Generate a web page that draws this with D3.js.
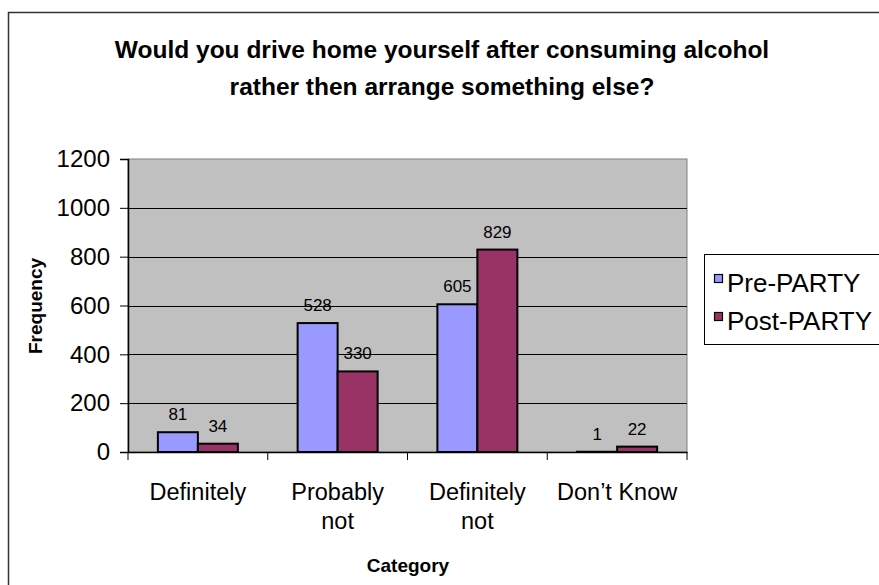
<!DOCTYPE html>
<html>
<head>
<meta charset="utf-8">
<script src="https://cdn.jsdelivr.net/npm/d3@7"></script>
<style>
  html, body { margin: 0; padding: 0; background: #fff; }
  svg { display: block; font-family: Arial, "Liberation Sans", sans-serif; }
</style>
</head>
<body>
<svg id="chart" width="879" height="585"></svg>
<script>
const categories = ["Definitely", "Probably\nnot", "Definitely\nnot", "Don\u2019t Know"];
const seriesNames = ["Pre-PARTY", "Post-PARTY"];
const preParty = [81, 528, 605, 1];
const postParty = [34, 330, 829, 22];
const yTicks = [0, 200, 400, 600, 800, 1000, 1200];
const titleLines = ["Would you drive home yourself after consuming alcohol", "rather then arrange something else?"];
const colors = ["#9999FF", "#993366"];

const svg = d3.select("#chart");
const plot = { left: 128, right: 687, top: 159, bottom: 452 };

// outer chart border (extends beyond the visible window, as in the reference)
svg.append("rect").attr("x", 8.5).attr("y", 12.5).attr("width", 1000).attr("height", 1000)
  .attr("fill", "#fff").attr("stroke", "#333").attr("stroke-width", 1.5);

// title
const title = svg.append("text").attr("text-anchor", "middle")
  .attr("font-weight", "bold").attr("font-size", 24.5).attr("fill", "#000");
titleLines.forEach((t, i) => {
  title.append("tspan").attr("x", 442).attr("y", 58 + i * 37).text(t);
});

const x = d3.scaleBand().domain(categories).range([plot.left, plot.right]).paddingInner(0).paddingOuter(0);
const xs = d3.scaleBand().domain(seriesNames).range([0, x.bandwidth()]).paddingInner(0).paddingOuter(0.747);
const y = d3.scaleLinear().domain([0, 1200]).range([plot.bottom, plot.top]);

// plot background
svg.append("rect").attr("x", plot.left).attr("y", plot.top)
  .attr("width", plot.right - plot.left).attr("height", plot.bottom - plot.top)
  .attr("fill", "#C0C0C0").attr("stroke", "#808080").attr("stroke-width", 1);

// gridlines
svg.append("g").selectAll("line").data(yTicks.filter(d => d > 0 && d < 1200)).join("line")
  .attr("x1", plot.left).attr("x2", plot.right)
  .attr("y1", d => Math.round(y(d)) + 0.5).attr("y2", d => Math.round(y(d)) + 0.5)
  .attr("stroke", "#000").attr("stroke-width", 1);

// bars
const data = categories.map((c, i) => ({ cat: c, vals: [preParty[i], postParty[i]] }));
const groups = svg.append("g").selectAll("g").data(data).join("g")
  .attr("transform", d => `translate(${x(d.cat)},0)`);
groups.selectAll("rect").data(d => d.vals.map((v, j) => ({ v, s: seriesNames[j], j }))).join("rect")
  .attr("x", d => xs(d.s)).attr("width", xs.bandwidth())
  .attr("y", d => y(d.v)).attr("height", d => y(0) - y(d.v))
  .attr("fill", d => colors[d.j]).attr("stroke", "#000").attr("stroke-width", 2);
groups.selectAll("text").data(d => d.vals.map((v, j) => ({ v, s: seriesNames[j], j }))).join("text")
  .attr("x", d => xs(d.s) + xs.bandwidth() / 2)
  .attr("y", d => y(d.v) - 12)
  .attr("text-anchor", "middle").attr("font-size", 17).attr("fill", "#000")
  .text(d => d.v);

// y axis
const yAxis = svg.append("g").attr("transform", `translate(${plot.left},0)`)
  .call(d3.axisLeft(y).tickValues(yTicks).tickFormat(d3.format("d")).tickSize(8).tickPadding(10));
yAxis.select(".domain").attr("stroke", "#000").attr("stroke-width", 1.5);
yAxis.selectAll(".tick line").attr("stroke", "#000");
yAxis.selectAll(".tick text").attr("font-size", 24).attr("font-family", "Arial, 'Liberation Sans', sans-serif").attr("fill", "#000");

// x axis
const xAxis = svg.append("g").attr("transform", `translate(0,${plot.bottom})`)
  .call(d3.axisBottom(x).tickSize(0).tickFormat(""));
xAxis.select(".domain").attr("stroke", "#000").attr("stroke-width", 1.5);
const bounds = categories.map(c => x(c)).concat([x(categories[categories.length - 1]) + x.bandwidth()]);
xAxis.selectAll(".bound").data(bounds).join("line").attr("class", "bound")
  .attr("x1", d => d).attr("x2", d => d).attr("y1", 0).attr("y2", 8)
  .attr("stroke", "#000").attr("stroke-width", 1);
xAxis.selectAll(".cat").data(categories).join("text").attr("class", "cat")
  .attr("text-anchor", "middle").attr("font-size", 23.5).attr("fill", "#000")
  .each(function (c) {
    const t = d3.select(this);
    c.split("\n").forEach((line, i) => {
      t.append("tspan").attr("x", x(c) + x.bandwidth() / 2).attr("y", 48 + i * 29).text(line);
    });
  });

// axis titles
svg.append("text").attr("transform", "translate(42,306) rotate(-90)")
  .attr("text-anchor", "middle").attr("font-weight", "bold").attr("font-size", 19).text("Frequency");
svg.append("text").attr("x", 408).attr("y", 572)
  .attr("text-anchor", "middle").attr("font-weight", "bold").attr("font-size", 19).text("Category");

// legend
const legend = svg.append("g");
legend.append("rect").attr("x", 704.5).attr("y", 254.5).attr("width", 300).attr("height", 90)
  .attr("fill", "#fff").attr("stroke", "#000").attr("stroke-width", 1);
const li = legend.selectAll("g").data(seriesNames).join("g")
  .attr("transform", (d, i) => `translate(714,${283 + i * 38})`);
li.append("rect").attr("x", 0.5).attr("y", -8.5).attr("width", 8).attr("height", 8)
  .attr("fill", (d, i) => colors[i]).attr("stroke", "#000").attr("stroke-width", 1.2);
li.append("text").attr("x", 13).attr("y", 9).attr("font-size", 26).attr("fill", "#000").text(d => d);
</script>
</body>
</html>
